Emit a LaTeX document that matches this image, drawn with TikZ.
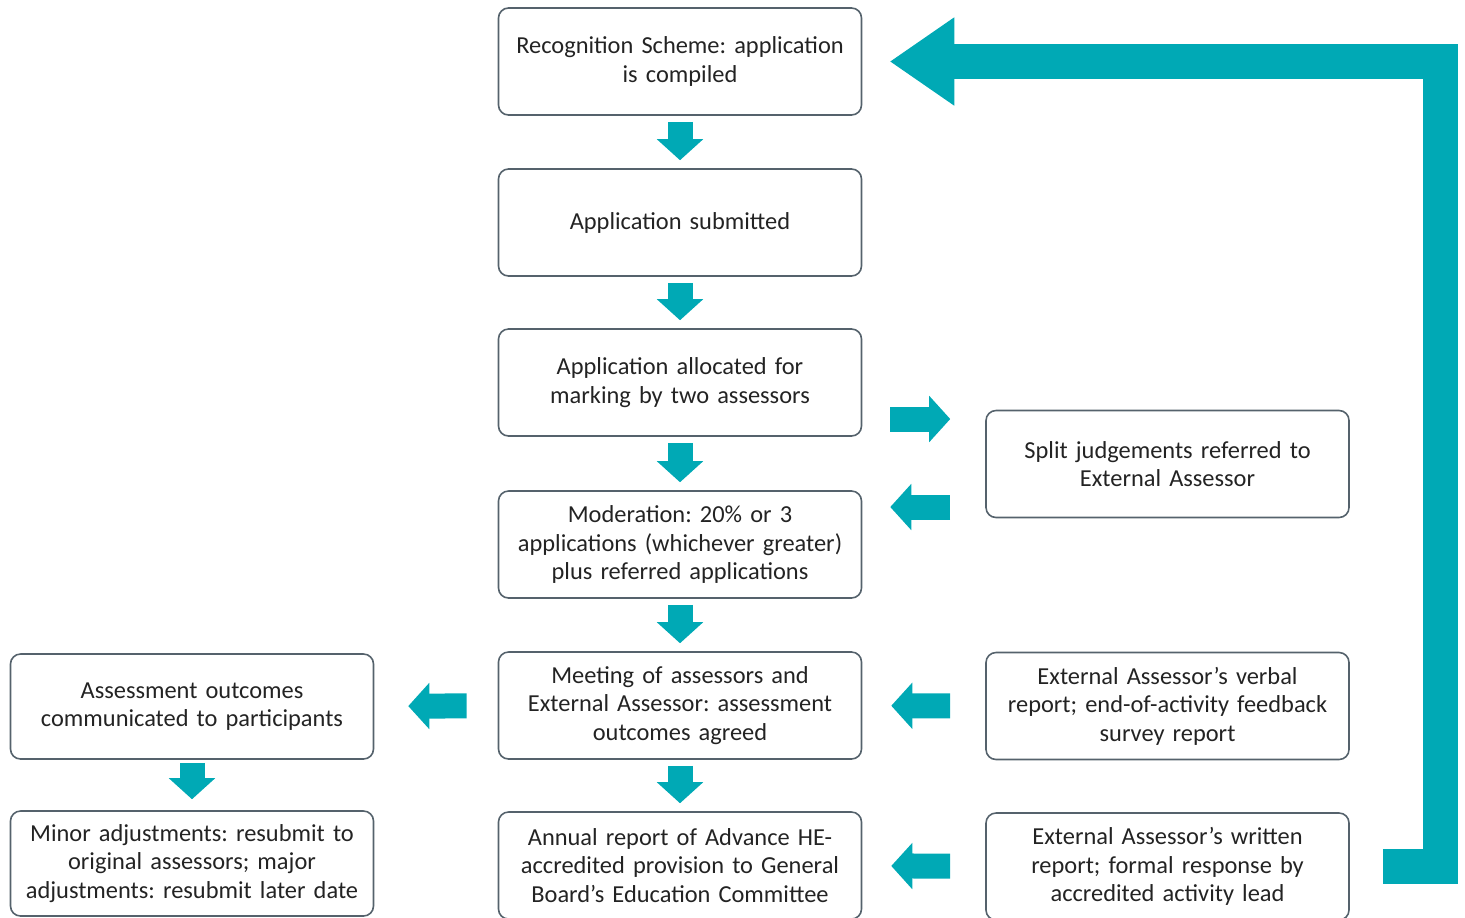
\documentclass[tikz,border=0pt]{standalone}
\usepackage{fontspec}
\setmainfont{Carlito}
\usetikzlibrary{arrows.meta}
\definecolor{flowteal}{RGB}{0,169,181}
\definecolor{boxgrey}{RGB}{85,98,108}
\definecolor{textgrey}{RGB}{35,35,35}
\frenchspacing

\begin{document}
\begin{tikzpicture}[x=0.5pt,y=-0.5pt,
  box/.style={draw=boxgrey, line width=0.8pt, rounded corners=5pt, minimum width=181.5pt, minimum height=53.5pt, text width=178pt, align=center, inner sep=0pt, text=textgrey, font=\fontsize{12.2}{14.2}\selectfont},
  flow/.style={draw=flowteal, line width=12.5pt, -{Triangle[width=23pt,length=10.5pt,line width=1pt]}},
  loop/.style={draw=flowteal, line width=17.5pt, -{Triangle[width=44pt,length=32pt,line width=1pt]}}]
\useasboundingbox (0,0) rectangle (1465,917);
% main column
\node[box] (b1) at (680,61.5) {Recognition Scheme: application\\is compiled};
\node[box] (b2) at (680,222.5) {Application submitted};
\node[box] (b3) at (680,382.5) {Application allocated for\\marking by two assessors};
\node[box] (b4) at (680,544.5) {Moderation: 20\% or 3\\applications (whichever greater)\\plus referred applications};
\node[box] (b5) at (680,705.5) {Meeting of assessors and\\External Assessor: assessment\\outcomes agreed};
\node[box] (b6) at (680,865.5) {Annual report of Advance HE-\\accredited provision to General\\Board’s Education Committee};
% right column
\node[box] (r1) at (1167.5,464) {Split judgements referred to\\External Assessor};
\node[box] (r2) at (1167.5,706) {External Assessor’s verbal\\report; end-of-activity feedback\\survey report};
\node[box] (r3) at (1167.5,866.5) {External Assessor’s written\\report; formal response by\\accredited activity lead};
% left column
\node[box, minimum height=52.5pt] (l1) at (192,706.5) {Assessment outcomes\\communicated to participants};
\node[box, minimum height=52.5pt] (l2) at (192,863.5) {Minor adjustments: resubmit to\\original assessors; major\\adjustments: resubmit later date};

% down the main column
\foreach \a/\b in {b1/b2,b2/b3,b3/b4,b4/b5,b5/b6}
  \draw[flow, shorten <=3pt, shorten >=4pt] (\a) -- (\b);
\draw[flow, shorten <=1.5pt, shorten >=5.5pt] (l1) -- (l2);

% sideways
\coordinate (s1) at ([yshift=-18.25pt]b3.east);
\coordinate (s2) at ([yshift=18.75pt]b4.east);
\draw[flow, shorten <=14pt, shorten >=17.5pt] (s1) -- (s1 -| r1.west);
\draw[flow, shorten <=17.5pt, shorten >=14pt] (s2 -| r1.west) -- (s2);
\draw[flow, shorten <=17.5pt, shorten >=14.5pt] (r2) -- (b5);
\draw[flow, shorten <=17.5pt, shorten >=14.5pt] (r3) -- (b6);
\draw[flow, shorten <=15.5pt, shorten >=17pt] (b5) -- (l1);

% back to the start
\draw[loop, shorten >=14pt] ([xshift=16.5pt]r3.east) -- ++(57.5,0) |- (b1.east);
\end{tikzpicture}
\end{document}
